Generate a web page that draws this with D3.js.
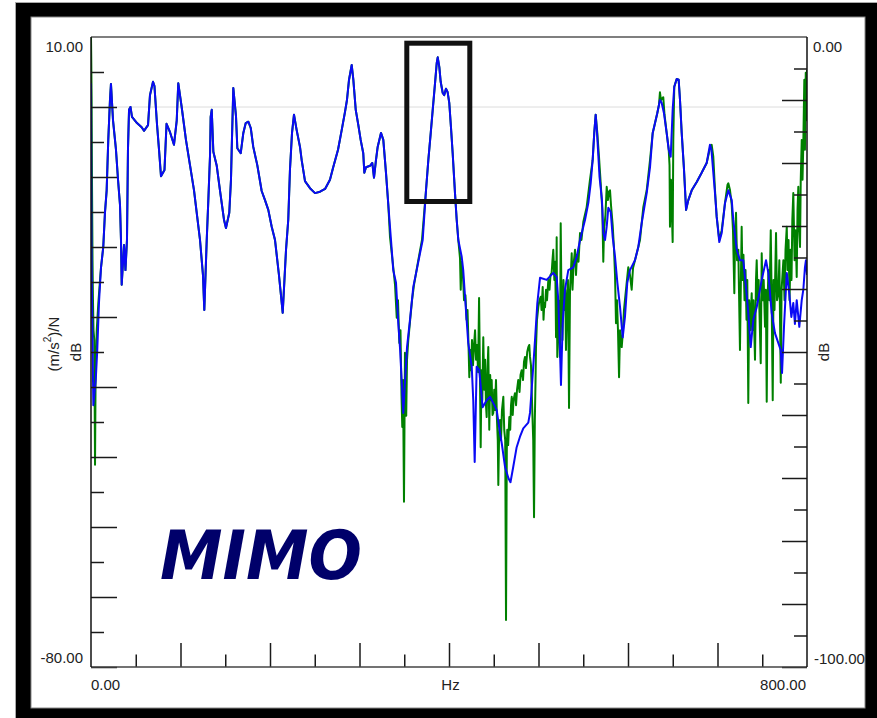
<!DOCTYPE html>
<html><head><meta charset="utf-8">
<script src="https://cdn.jsdelivr.net/npm/d3@7"></script>
<style>html,body{margin:0;padding:0;background:#fff;}svg{display:block;}</style>
</head><body>
<svg id="chart" width="877" height="718"></svg>
<script>
// ---- data (Hz, dB) ----
const blueFreq = [0,0.6,0.8,2.6,5.3,7.0,8.9,11.2,13.7,15.6,17.5,19.3,21.2,22.3,24.6,27.9,30.2,32.4,33.5,34.3,36.9,38.5,40.2,41.3,42.5,44.1,45.8,51.4,56.6,59.2,63.7,65.9,69.3,70.9,73.7,76,78.2,82.1,84.4,88.3,92.7,95.8,97.5,101.3,106.1,110.6,115.1,118.1,121.8,125.1,126.6,129.3,131.1,133,133.7,134.9,136.7,140.5,144.1,148.6,150.8,154.5,156.4,157.2,159,162,163.5,167.3,170.2,172.9,175.8,178.5,181.3,185.8,190.7,194.4,198.1,201.9,205.6,210,214.2,217.9,220.4,222.3,224.6,226.8,229.8,233.5,235.4,239.1,244.7,250.3,255.9,261.5,267,270.4,276,280.1,283.8,286,288.3,291.3,293.1,295.8,298.7,301.3,304.2,305.4,307.3,311.7,314.3,316.2,318.4,320.3,324,326.6,329.6,332.2,335.2,337.7,340.8,343.3,345.2,347.1,348.9,350.8,353.1,356.4,360.1,363.9,367.6,370.6,374.3,376.9,379.6,381.8,384.4,386.3,387.4,389.2,390.7,393,394.7,396.6,398.5,400.3,402.2,404.1,406.7,408.6,410.4,414.2,415.9,418.7,421.5,425.4,427.1,428.7,430.9,433.8,437.6,442.1,445.8,449.5,453.3,457,458.9,462.6,466.3,468.7,471.8,475.6,479.3,483,488.6,490.5,493.1,496.1,498.7,501.7,509.2,516.5,520.3,522.1,524,525.1,527,529.6,533.3,538.9,542.7,546.4,552,555.7,558.3,560.5,562.3,563.9,565.4,568.2,570.9,572.4,574.3,576.2,578,580.7,582.9,585.5,588.1,591.1,594.1,596.6,599.2,602.2,607.8,611.5,615.3,620.9,624.6,627.6,630.2,632.7,635.7,637.6,640.2,643.2,645.5,647.7,649.9,651.7,654.4,656.6,658.1,660,662.6,664.9,667.4,671.2,676.8,682.3,687.9,691.6,693.2,697.2,699.1,702,704.7,708.4,712.1,715.9,717.6,721.5,725.1,728.8,731.8,734.4,737.1,740,743.8,749.4,754.2,756.8,760.5,764.2,767.9,770.6,772.1,774.3,777.4,780.2,782.5,784.7,786.5,788.5,791.4,794.1,795.9,797.7,798.8,800];
const blueDb = [3.4,-19,-23.7,-42.6,-39,-34.7,-28,-22.9,-20,-15.1,-11.9,-4.7,1.0,3.3,-1.9,-6.1,-10.4,-14,-19,-25.4,-19.7,-23.3,-19,-6.1,-0.4,0,-1.4,-2.3,-2.9,-3.4,-2.6,1.7,3.6,3.0,-2.4,-6.1,-9.9,-9.0,-2.4,-3.6,-5.4,-1.9,3.4,0,-4.7,-8.3,-11.9,-15.1,-19,-24,-29,-19,-13.3,-6.9,-1.4,-0.4,-6.4,-8.4,-11.9,-16.1,-17.3,-15.1,-10.4,-6.1,2.7,-1.3,-5.9,-6.6,-3.7,-2.3,-2.1,-3,-5.7,-8.3,-12,-13.3,-14.7,-17.1,-19,-24,-29.4,-20.4,-16.1,-9,-3.7,-1.1,-3.3,-5.7,-7.6,-10.6,-11.6,-12.3,-12.1,-11.7,-10.4,-8.7,-6.1,-3.3,-0.7,1,3.9,6,3.9,-0.4,-2.6,-4.7,-6.6,-9.4,-8.6,-8.4,-8,-10.1,-7.6,-5.7,-3.7,-4.7,-9.4,-14,-19,-23.3,-25.1,-30.9,-34.3,-39,-43.7,-39.4,-34.3,-30.4,-25.7,-23.3,-20.9,-19,-11.9,-7.6,-3.7,-0.4,3.4,6.3,7.1,5.7,3.6,2,1.7,2.6,2.1,0.6,-2.9,-6.6,-12.3,-16.1,-19,-21.4,-23.3,-28.6,-33.7,-37.1,-41.9,-50.7,-37.1,-37.6,-42.9,-41.9,-41.4,-42.3,-43.3,-46.6,-48,-51.4,-53,-53.6,-51.4,-48.6,-47.1,-45.9,-45.1,-43.7,-39,-33.3,-28,-24.4,-24.7,-23.7,-24.3,-27.6,-34.7,-39.7,-30.9,-26.1,-23.3,-22.9,-21.4,-19,-16.1,-13.7,-10.9,-7.6,-3.7,-1.1,-3.7,-10,-13.3,-18,-19,-17.1,-14.4,-15,-18.6,-21.4,-25.1,-28.6,-32.9,-30,-25.1,-23.3,-21.9,-20,-16.6,-12.3,-8.6,-3.7,-2.3,-0.9,1,0.6,-0.9,-3.7,-6.1,-7.1,-0.4,2.9,4,3.9,1,-3.7,-9,-14.7,-13.3,-11.9,-10.7,-9.4,-8,-5.4,-6.1,-12.3,-15.7,-19.3,-18,-13.7,-11.9,-13.3,-16.1,-20.4,-21.9,-21.9,-25.7,-29.4,-34.3,-30.4,-28.6,-24.7,-21.9,-23.7,-29.4,-32.3,-33.7,-34.7,-38,-31.4,-23.7,-26.6,-30,-28,-31,-27.6,-31.4,-27.6,-26.1,-22.9,-21.9,-24];

// green: start (0-11 Hz), then it coincides with the blue curve, then its own noisy tail (334-800 Hz)
const greenHeadFreq = [0,0.3,0.7,1.1,1.7,2.2,2.8,3.7,4.5,5.1,6.4,8.2,10.1];
const greenHeadDb = [10,6.7,1,-10.4,-21.9,-27.6,-31.9,-33.3,-51.1,-39,-31.9,-28,-24.7];
const greenTailFreq = [334.1,337.8,339.7,341.6,343,344.5,345.8,346.9,347.8,348.6,349.7,350.8,352.2,353.1,354.5,356.4,358.7,360.9,365.4,369.8,374.3,376.9,379.6,381.8,384.4,386.3,387.4,389.2,390.7,393,394.7,396.6,398.5,400.3,402.2,404.1,406.7,408.6,410.4,412.3,413.1,414,415.6,416.8,418.4,419.6,420.7,421.8,422.7,423.7,424.6,425.7,426.8,428,429.1,430.2,431.3,432.5,433.6,434.4,435.4,436.3,437.2,438.3,439.4,440.4,441.3,442.1,443,443.9,445,446,446.9,447.7,448.6,449.5,450.5,451.4,452.5,453.6,454.5,455.1,455.9,457,458.1,459.2,460.7,461.7,462.8,463.7,464.6,465.1,466.1,467.4,468.4,469.3,470.1,471.2,472.1,473.7,474.9,476,477.4,478.8,479.9,481.2,482.7,483.8,484.9,486,487.4,488.6,489.7,490.5,491.6,492.7,494.1,495,495.9,496.7,497.2,498.3,499.8,501.1,502.5,503.4,504.7,505.6,506.5,507.3,508.4,509.5,511,512.3,513.4,514.7,515.6,516.5,517.7,518.7,519.6,520.3,521,522.1,523.1,524,524.8,525.7,526.8,527.9,529,529.9,530.7,531.8,532.9,534.1,535.2,536.3,537.1,538,539.1,540.8,541.9,543,544.7,546.4,548,550.1,553.8,557.5,560.5,562.3,563.9,565.7,567.6,569.5,571.3,572.4,573.2,574.8,576.2,577.6,578.7,579.9,581,582.9,584.4,585.5,586.6,587.7,588.8,590,591.1,593,594.4,595.5,596.6,598.3,600.3,602.2,604.1,605.6,607.8,611.5,613.4,617.1,620.9,624.6,627.6,630.2,632.7,634.6,635.7,636.8,639.4,640.8,643.2,645.5,646.4,646.9,648,649.9,650.6,651.7,654.4,656.6,658.1,660,662.6,664.9,667.4,671.2,676.8,682.3,687.9,691.6,693.5,695.3,697.2,699.1,702,704.7,708.4,711.2,712.1,714,715.9,717.3,718.8,719.6,720.7,721.8,723.3,724,725.1,726.3,727,727.9,729,730.2,731.3,732.4,733.3,734.4,735.4,736.6,738.2,739.1,740.2,741.9,743,743.8,744.9,746,747.1,748.3,749.4,750.5,751.6,753.1,754,755,755.9,757,758.1,759.5,760.4,761.7,762.6,763.7,765.4,766.5,768,769.1,770.7,771.6,773.6,774.9,776,777.4,778.2,779.4,780.5,781.6,782.7,783.6,784.7,786.1,787.2,788.5,789.4,790.3,791.3,792.2,793,794.1,795,795.9,797,797.7,798.6,799.2,800];
const greenTailDb = [-18.6,-23,-25.4,-30.1,-27.6,-33.7,-31.9,-41.1,-45.7,-39,-56.4,-35.1,-44.1,-36.1,-33.3,-30.7,-27.6,-25.4,-22.1,-19,-11.9,-7.6,-3.7,-0.4,3.4,6.3,7.1,5.7,3.6,2,1.7,2.6,2.1,0.6,-2.9,-6.6,-12.3,-16.1,-19,-21.6,-26.1,-22.1,-24,-27.6,-26.9,-30.4,-29,-34,-38.6,-34.7,-37.6,-33.3,-36.9,-34,-31.9,-36.1,-34,-37.9,-27.3,-36.1,-48.6,-37.6,-41.9,-32.9,-40.4,-36.1,-42.6,-44.3,-37.6,-34.3,-46.1,-38.3,-41.9,-39,-44,-43.7,-40.4,-43.3,-39,-44.7,-47.6,-54,-47.6,-44.7,-47.6,-43.3,-41.4,-46.1,-47.6,-73.3,-49,-46.1,-48.3,-44.3,-46.1,-42.6,-41.4,-44,-41.9,-40.9,-42.6,-40.4,-39,-40.7,-38.3,-37.6,-39,-36.4,-35.7,-37.3,-35,-34.3,-34,-35.7,-36.9,-41.9,-47.6,-58.6,-44.7,-39,-34.3,-30.4,-28.6,-27.6,-27.1,-29,-25.7,-30.4,-28,-28.6,-26.1,-27.6,-24.7,-26.1,-24,-23.7,-21.9,-20.4,-24.7,-22.1,-32.9,-18.6,-35.7,-27.6,-31.9,-35.7,-16.6,-27.6,-33.3,-24.7,-29,-26.1,-34.7,-27.6,-24.7,-43,-26.1,-23.3,-20.9,-26.1,-22.6,-20.4,-24,-21.1,-22.1,-18,-19,-16.4,-14.3,-10.4,-7.6,-3.7,-1.1,-3.7,-7.1,-10.9,-14.7,-22.1,-17.6,-15.4,-11.4,-13.3,-12.1,-11.9,-14,-16.9,-20.4,-24,-30.9,-27.6,-31.9,-38.6,-31.9,-34.3,-31.9,-29,-27.6,-25.4,-22.9,-24,-26.1,-23,-21.9,-20,-19,-14.3,-11.9,-7.6,-3.7,-2.3,-0.9,0.3,2.1,1,1.4,-1.1,-3.7,-6.1,-8.3,-17.1,-10.4,-19.3,-4.7,2.9,4,3.9,1,-3.7,-9,-14.7,-13.3,-11.9,-10.7,-9.4,-8,-5.9,-5.4,-7.1,-11.9,-15.7,-19,-17.6,-13.7,-11.1,-10.9,-11.9,-14,-17.6,-26.6,-19,-15.1,-21.9,-20.4,-26.1,-34.7,-23.3,-17.1,-24.7,-21.1,-27.6,-23.3,-30.4,-24.7,-42.3,-27.6,-31.9,-26.6,-31.9,-27.6,-36.1,-24.7,-21.9,-27.6,-24.7,-30.4,-36.6,-20.9,-27.6,-24.7,-31.4,-26.1,-42.1,-27.6,-23.3,-27.6,-17.6,-26.1,-41.9,-24.7,-29,-18,-27.6,-26.6,-21.9,-39.4,-26.1,-21.9,-27.6,-20.4,-17.1,-23.3,-19,-27.6,-20.4,-24.7,-16.1,-12.3,-21.9,-17.6,-24.3,-14.7,-11.4,-17.6,-20,-10.4,-4.7,-10.4,-5.1,3.9,-6.1,4.9,-1.9,5.3];

const xTicksLong = [100,200,300,400,500,600,700];
const xTicksShort = [50,150,250,350,450,550,650,750];
const yLeftLong = [0,-10,-20,-30,-40,-50,-60,-70,-80];
const yLeftShort = [5,-5,-15,-25,-35,-45,-55,-65,-75];
const yRightLong = [-10,-20,-30,-40,-50,-60,-70,-80,-90,-100];
const yRightShort = [-5,-15,-25,-35,-45,-55,-65,-75,-85,-95];
const xLabels = ["0.00","800.00"];
const yLeftLabels = ["10.00","-80.00"];
const yRightLabels = ["0.00","-100.00"];

// ---- layout ----
const L = 91, R = 807, T = 37, B = 667;
const svg = d3.select("#chart");
const font = "'Liberation Sans', Arial, Helvetica, sans-serif";

const x = d3.scaleLinear().domain([0, 800]).range([L, R]);
const yL = d3.scaleLinear().domain([-80, 10]).range([B, T]);
const yR = d3.scaleLinear().domain([-100, 0]).range([B, T]);

// frame
svg.append("rect").attr("x", 15.5).attr("y", 2.5).attr("width", 870).attr("height", 720)
  .attr("fill", "#000").attr("stroke", "#aaa").attr("stroke-width", 1);
svg.append("rect").attr("x", 31).attr("y", 17).attr("width", 834).attr("height", 691)
  .attr("fill", "#fff").attr("stroke", "#888").attr("stroke-width", 1);

// zero grid line
svg.append("line").attr("x1", L).attr("x2", R).attr("y1", yL(0)).attr("y2", yL(0))
  .attr("stroke", "#dcdcdc").attr("stroke-width", 1);

// clip
svg.append("clipPath").attr("id", "plotclip").append("rect")
  .attr("x", L).attr("y", T).attr("width", R - L).attr("height", B - T);

const line = d3.line().x(d => x(d[0])).y(d => yL(d[1]));
const blue = blueFreq.map((f, i) => [f, blueDb[i]]);
const greenMid = blue.filter(d => d[0] > 10.5 && d[0] < 334);
const green = greenHeadFreq.map((f, i) => [f, greenHeadDb[i]])
  .concat(greenMid)
  .concat(greenTailFreq.map((f, i) => [f, greenTailDb[i]]));

const plot = svg.append("g").attr("clip-path", "url(#plotclip)");
plot.append("path").datum(green).attr("d", line).attr("fill", "none")
  .attr("stroke", "#008000").attr("stroke-width", 2).attr("stroke-linejoin", "round");
plot.append("path").datum(blue).attr("d", line).attr("fill", "none")
  .attr("stroke", "#0a0af5").attr("stroke-width", 2).attr("stroke-linejoin", "round");

// axes ticks
function styleAxis(g) {
  g.select(".domain").remove();
  g.selectAll(".tick line").attr("stroke", "#1a1a1a").attr("stroke-width", 1.5);
  g.selectAll(".tick text").remove();
}
svg.append("g").attr("transform", `translate(${L},0)`)
  .call(d3.axisRight(yL).tickValues(yLeftLong).tickSize(26).tickFormat("")).call(styleAxis);
svg.append("g").attr("transform", `translate(${L},0)`)
  .call(d3.axisRight(yL).tickValues(yLeftShort).tickSize(13).tickFormat("")).call(styleAxis);
svg.append("g").attr("transform", `translate(${R},0)`)
  .call(d3.axisLeft(yR).tickValues(yRightLong).tickSize(25).tickFormat("")).call(styleAxis);
svg.append("g").attr("transform", `translate(${R},0)`)
  .call(d3.axisLeft(yR).tickValues(yRightShort).tickSize(13).tickFormat("")).call(styleAxis);
svg.append("g").attr("transform", `translate(0,${B})`)
  .call(d3.axisTop(x).tickValues(xTicksLong).tickSize(24).tickFormat("")).call(styleAxis);
svg.append("g").attr("transform", `translate(0,${B})`)
  .call(d3.axisTop(x).tickValues(xTicksShort).tickSize(12.5).tickFormat("")).call(styleAxis);

// axis lines
svg.append("line").attr("x1", L).attr("x2", R).attr("y1", T).attr("y2", T).attr("stroke", "#555").attr("stroke-width", 1.5);
svg.append("line").attr("x1", L).attr("x2", R).attr("y1", B).attr("y2", B).attr("stroke", "#444").attr("stroke-width", 1.5);
svg.append("line").attr("x1", L).attr("x2", L).attr("y1", T).attr("y2", B).attr("stroke", "#111").attr("stroke-width", 1.5);
svg.append("line").attr("x1", R).attr("x2", R).attr("y1", T).attr("y2", B).attr("stroke", "#111").attr("stroke-width", 1.5);

// labels
function txt(s, xx, yy, anchor, rot) {
  const t = svg.append("text").attr("x", xx).attr("y", yy).attr("text-anchor", anchor)
    .attr("dominant-baseline", "central").attr("font-family", font).attr("font-size", 15)
    .attr("fill", "#222").text(s);
  if (rot) t.attr("transform", `rotate(-90,${xx},${yy})`);
  return t;
}
txt(yLeftLabels[0], 83, 46, "end");
txt(yLeftLabels[1], 83, 657, "end");
txt(yRightLabels[0], 813, 46, "start");
txt(yRightLabels[1], 814, 658, "start");
txt(xLabels[0], L, 684, "start");
txt(xLabels[1], R - 1, 684, "end");
txt("Hz", 450.5, 684, "middle");

// y titles
const yt = svg.append("text").attr("x", 53).attr("y", 344).attr("text-anchor", "middle")
  .attr("dominant-baseline", "central").attr("font-family", font).attr("font-size", 15).attr("fill", "#222")
  .attr("transform", "rotate(-90,53,344)");
yt.append("tspan").text("(m/s");
yt.append("tspan").attr("font-size", 10).attr("dy", -6).text("2");
yt.append("tspan").attr("dy", 6).text(")/N");
txt("dB", 75.5, 352, "middle", true);
txt("dB", 823, 352, "middle", true);

// highlight box
svg.append("rect").attr("x", 406.8).attr("y", 43.2).attr("width", 63).attr("height", 158.3)
  .attr("fill", "none").attr("stroke", "#111").attr("stroke-width", 5);

// MIMO label
svg.append("text").attr("x", 160).attr("y", 579).attr("font-family", "'DejaVu Sans', sans-serif")
  .attr("font-weight", "bold").attr("font-style", "italic").attr("font-size", 68)
  .attr("textLength", 202).attr("lengthAdjust", "spacingAndGlyphs")
  .attr("fill", "#00006a").text("MIMO");
</script>
</body></html>
